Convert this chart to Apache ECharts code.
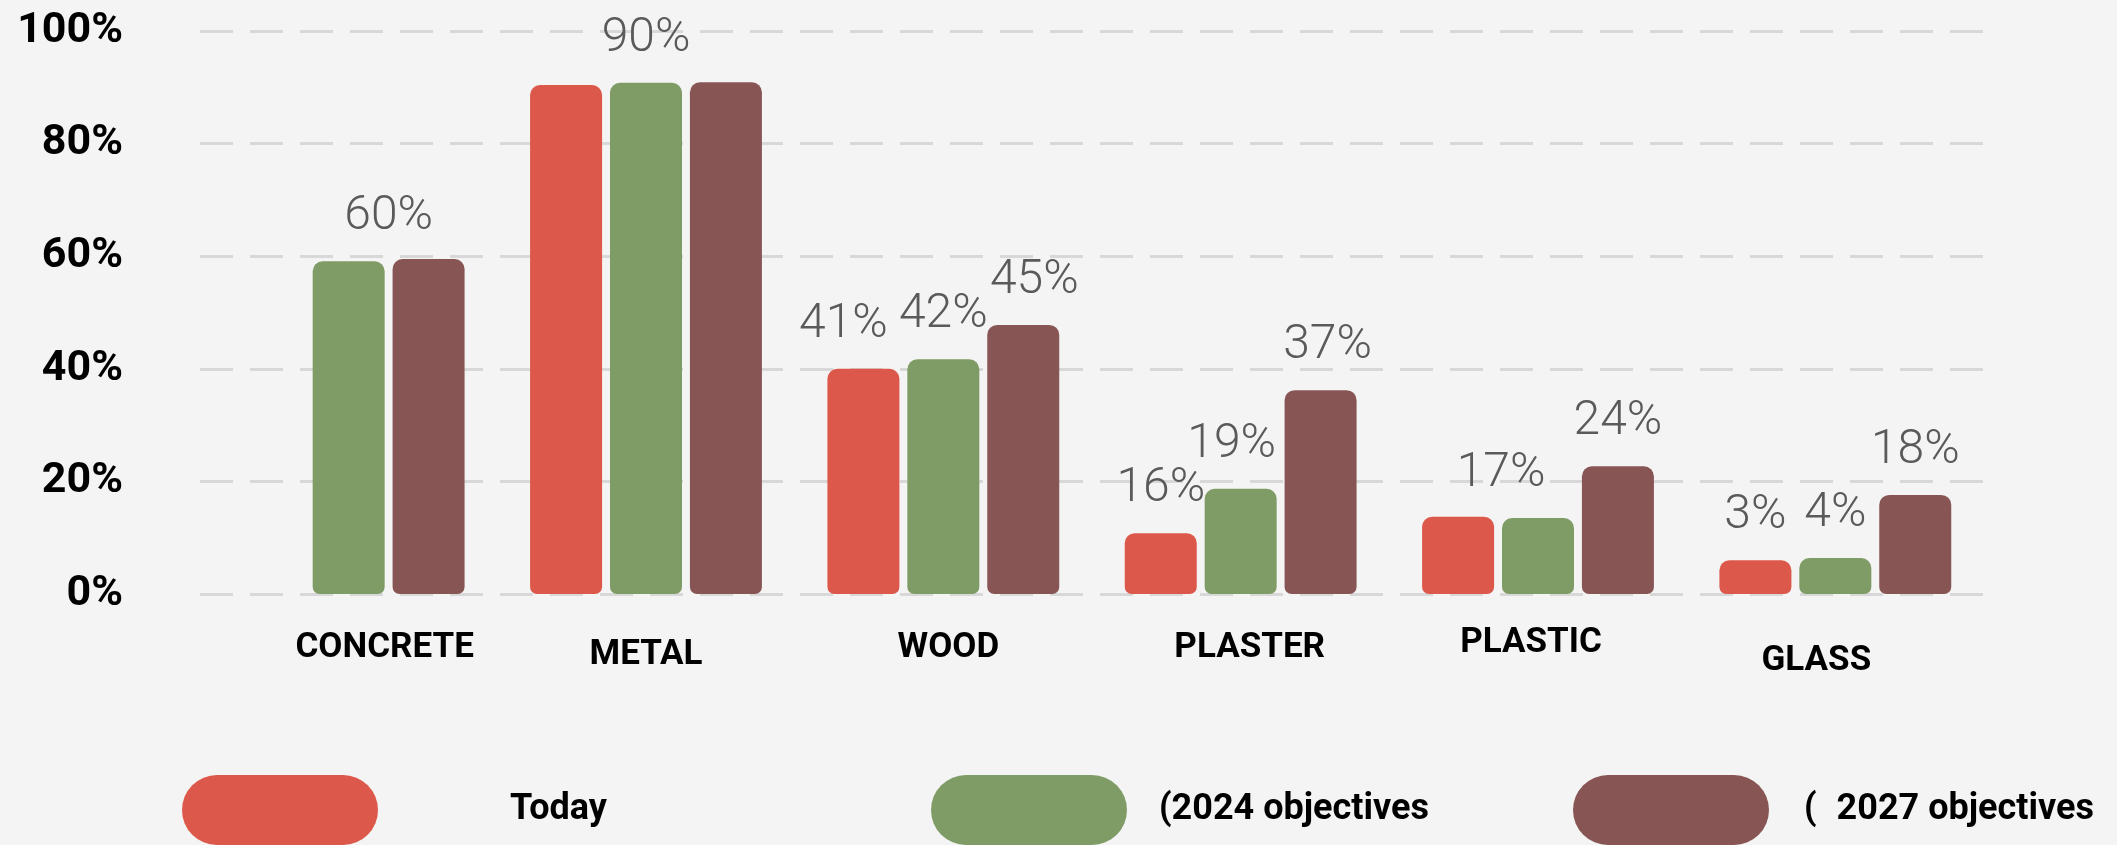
<!DOCTYPE html>
<html>
<head>
<meta charset="utf-8">
<script src="https://cdn.jsdelivr.net/npm/echarts@6/dist/echarts.min.js"></script>
<style>
  html, body { margin: 0; padding: 0; background: #f5f4f4; }
  #chart { width: 2117px; height: 845px; }
</style>
</head>
<body>
<div id="chart"></div>
<script>
// ---- data ----
const categories = ['CONCRETE', 'METAL', 'WOOD', 'PLASTER', 'PLASTIC', 'GLASS'];
const seriesNames = ['Today', '(2024 objectives', '2027 objectives'];
const todayValues = [null, 90.4, 40.0, 10.8, 13.7, 6.0];
const objectives2024Values = [59.1, 90.8, 41.7, 18.7, 13.5, 6.4];
const objectives2027Values = [59.5, 90.9, 47.8, 36.2, 22.7, 17.6];
const todayLabels = ['', '', '41%', '16%', '', '3%'];
const objectives2024Labels = ['60%', '90%', '42%', '19%', '17%', '4%'];
const objectives2027Labels = ['', '', '45%', '37%', '24%', '18%'];
const yTickLabels = ['0%', '20%', '40%', '60%', '80%', '100%'];

// ---- styling ----
const colors = ['#dc584a', '#7f9c66', '#875654'];
const labelShift = { // [seriesIndex][categoryIndex] -> [dx, dy]
  0: { 2: [-20, 0] },
  1: { 0: [40, 0], 4: [-37, 0], 3: [-9, 0] },
  2: { 2: [11, 0], 3: [7, 0] }
};
// per-category x-label nudges [dx, dy] in px
const xLabelNudge = [[36, 5], [0, 12], [5, 5], [9, 5], [-7, 0], [-19, 18]];
const valueFont = 'Roboto, "DejaVu Sans Condensed", sans-serif';
const boldFont = 'Roboto, "DejaVu Sans Condensed", sans-serif';

function makeSeries(idx, values, labels) {
  return {
    name: seriesNames[idx],
    type: 'bar',
    barWidth: 72,
    barGap: '11%',
    itemStyle: { color: colors[idx], borderRadius: [10, 10, 7, 7] },
    data: values.map((v, i) => {
      const shift = (labelShift[idx] && labelShift[idx][i]) || [0, 0];
      return {
        value: v,
        label: {
          show: !!labels[i],
          formatter: labels[i] || '',
          offset: shift
        }
      };
    }),
    label: {
      position: 'top',
      distance: 20,
      color: '#5a5a5a',
      fontFamily: valueFont,
      fontSize: 48,
      fontWeight: 300
    }
  };
}

const stadium = 'path://M35,0 L161,0 A35,35 0 0 1 161,70 L35,70 A35,35 0 0 1 35,0 Z';
function makeLegend(name, left, textPad, formatter, rich) {
  return {
    data: [name],
    left: left,
    top: 775,
    padding: 0,
    itemWidth: 196,
    itemHeight: 70,
    icon: stadium,
    selectedMode: false,
    formatter: formatter,
    textStyle: {
      color: '#000',
      fontFamily: boldFont,
      fontWeight: 'bold',
      fontSize: 36,
      padding: [0, 0, 0, textPad],
      rich: rich
    }
  };
}

const xRich = {};
xLabelNudge.forEach((n, i) => {
  const dx = n[0], dy = n[1];
  xRich['c' + i] = {
    color: '#000',
    fontFamily: boldFont,
    fontWeight: 'bold',
    fontSize: 35,
    padding: [dy, dx < 0 ? -2 * dx : 0, 0, dx > 0 ? 2 * dx : 0]
  };
});

const chart = echarts.init(document.getElementById('chart'), null, { renderer: 'canvas' });
chart.setOption({
  backgroundColor: '#f5f4f4',
  animation: false,
  color: colors,
  grid: { left: 200, right: 133, top: 31, bottom: 251, containLabel: false },
  legend: [
    makeLegend(seriesNames[0], 182, 127, '{name}'),
    makeLegend(seriesNames[1], 931, 27, '{name}'),
    makeLegend(seriesNames[2], 1573, 30, function (n) { return '{p|(}{t|' + n + '}'; }, {
      p: { fontFamily: boldFont, fontWeight: 'bold', fontSize: 36, color: '#000', padding: [0, 20, 0, 0] },
      t: { fontFamily: boldFont, fontWeight: 'bold', fontSize: 36, color: '#000' }
    })
  ],
  xAxis: {
    type: 'category',
    data: categories,
    axisLine: { show: false },
    axisTick: { show: false },
    axisLabel: {
      interval: 0,
      hideOverlap: false,
      margin: 32,
      color: '#000',
      fontFamily: boldFont,
      fontWeight: 'bold',
      fontSize: 35,
      formatter: function (v, i) { return '{c' + i + '|' + v + '}'; },
      rich: xRich
    }
  },
  yAxis: {
    type: 'value',
    min: 0,
    max: 100,
    interval: 20,
    axisLine: { show: false },
    axisTick: { show: false },
    axisLabel: {
      margin: 77,
      color: '#000',
      fontFamily: boldFont,
      fontWeight: 'bold',
      fontSize: 43,
      formatter: function (v) { return yTickLabels[Math.round(v / 20)]; }
    },
    splitLine: {
      show: true,
      lineStyle: { color: '#d8d8d8', width: 3, type: [33, 17] }
    }
  },
  series: [
    makeSeries(0, todayValues, todayLabels),
    makeSeries(1, objectives2024Values, objectives2024Labels),
    makeSeries(2, objectives2027Values, objectives2027Labels)
  ]
});
</script>
</body>
</html>
